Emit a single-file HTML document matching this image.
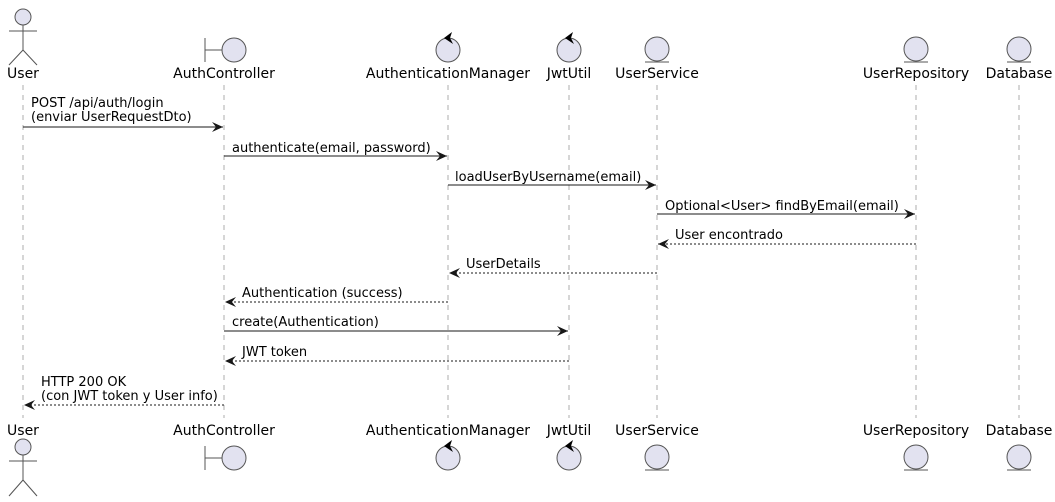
<!DOCTYPE html>
<html><head><meta charset="utf-8"><style>
html,body{margin:0;padding:0;background:#fff;width:1055px;height:502px;overflow:hidden}
svg{display:block}
text{font-family:"DejaVu Sans","Liberation Sans",sans-serif;fill:#000}
.lbl{font-size:14px}
.msg{font-size:13px}
.ll{stroke:#999;stroke-width:0.8;stroke-dasharray:5,5}
.ic{fill:#E2E2F0;stroke:#555;stroke-width:1}
.ln{stroke:#555;stroke-width:1;fill:none}
.a{stroke:#181818;stroke-width:1}
.d{stroke:#181818;stroke-width:1;stroke-dasharray:2,2}
</style></head><body>
<svg width="1055" height="502" viewBox="0 0 1055 502">
<defs>
<marker id="ar" markerWidth="12" markerHeight="10" refX="11" refY="5" orient="auto" markerUnits="userSpaceOnUse">
<path d="M0,0 L11,5 L0,10 L4,5 Z" fill="#181818"/>
</marker>
</defs>
<line class="ll" x1="23" y1="85" x2="23" y2="418"/>
<line class="ll" x1="224" y1="85" x2="224" y2="418"/>
<line class="ll" x1="448" y1="85" x2="448" y2="418"/>
<line class="ll" x1="569" y1="85" x2="569" y2="418"/>
<line class="ll" x1="657" y1="85" x2="657" y2="418"/>
<line class="ll" x1="916" y1="85" x2="916" y2="418"/>
<line class="ll" x1="1019" y1="85" x2="1019" y2="418"/>

<circle class="ic" cx="23" cy="17" r="8"/>
<line class="ln" x1="23" y1="25" x2="23" y2="50"/>
<line class="ln" x1="9" y1="31" x2="37" y2="31"/>
<line class="ln" x1="23" y1="50" x2="9" y2="65"/>
<line class="ln" x1="23" y1="50" x2="37" y2="65"/>
<text class="lbl" x="23" y="78" text-anchor="middle">User</text>

<line class="ln" x1="205" y1="38" x2="205" y2="62"/>
<line class="ln" x1="205" y1="50" x2="222" y2="50"/>
<circle class="ic" cx="234" cy="50" r="12"/>
<text class="lbl" x="224" y="78" text-anchor="middle">AuthController</text>

<circle class="ic" cx="448" cy="50" r="12"/>
<path d="M444,38 L452,32 L450,38 L453,44 Z" fill="#000"/>
<text class="lbl" x="448" y="78" text-anchor="middle">AuthenticationManager</text>

<circle class="ic" cx="569" cy="50" r="12"/>
<path d="M565,38 L573,32 L571,38 L574,44 Z" fill="#000"/>
<text class="lbl" x="569" y="78" text-anchor="middle">JwtUtil</text>

<circle class="ic" cx="657" cy="49" r="12"/><line class="ln" x1="645" y1="62" x2="669" y2="62"/>
<text class="lbl" x="657" y="78" text-anchor="middle">UserService</text>
<circle class="ic" cx="916" cy="49" r="12"/><line class="ln" x1="904" y1="62" x2="928" y2="62"/>
<text class="lbl" x="916" y="78" text-anchor="middle">UserRepository</text>
<circle class="ic" cx="1019" cy="49" r="12"/><line class="ln" x1="1007" y1="62" x2="1031" y2="62"/>
<text class="lbl" x="1019" y="78" text-anchor="middle">Database</text>

<text class="lbl" x="23" y="435" text-anchor="middle">User</text>
<circle class="ic" cx="23" cy="447" r="8"/>
<line class="ln" x1="23" y1="455" x2="23" y2="480"/>
<line class="ln" x1="9" y1="461" x2="37" y2="461"/>
<line class="ln" x1="23" y1="480" x2="9" y2="496"/>
<line class="ln" x1="23" y1="480" x2="37" y2="496"/>

<text class="lbl" x="224" y="435" text-anchor="middle">AuthController</text>
<line class="ln" x1="205" y1="446" x2="205" y2="470"/>
<line class="ln" x1="205" y1="458" x2="222" y2="458"/>
<circle class="ic" cx="234" cy="458" r="12"/>

<text class="lbl" x="448" y="435" text-anchor="middle">AuthenticationManager</text>
<circle class="ic" cx="448" cy="458" r="12"/>
<path d="M444,446 L452,440 L450,446 L453,452 Z" fill="#000"/>
<text class="lbl" x="569" y="435" text-anchor="middle">JwtUtil</text>
<circle class="ic" cx="569" cy="458" r="12"/>
<path d="M565,446 L573,440 L571,446 L574,452 Z" fill="#000"/>

<text class="lbl" x="657" y="435" text-anchor="middle">UserService</text>
<circle class="ic" cx="657" cy="457" r="12"/><line class="ln" x1="645" y1="470" x2="669" y2="470"/>
<text class="lbl" x="916" y="435" text-anchor="middle">UserRepository</text>
<circle class="ic" cx="916" cy="457" r="12"/><line class="ln" x1="904" y1="470" x2="928" y2="470"/>
<text class="lbl" x="1019" y="435" text-anchor="middle">Database</text>
<circle class="ic" cx="1019" cy="457" r="12"/><line class="ln" x1="1007" y1="470" x2="1031" y2="470"/>

<text class="msg" x="31" y="107">POST /api/auth/login</text>
<text class="msg" x="31" y="121">(enviar UserRequestDto)</text>
<line class="a" x1="23" y1="127" x2="223" y2="127" marker-end="url(#ar)"/>

<text class="msg" x="232" y="152">authenticate(email, password)</text>
<line class="a" x1="224" y1="156" x2="447" y2="156" marker-end="url(#ar)"/>

<text class="msg" x="455" y="181">loadUserByUsername(email)</text>
<line class="a" x1="448" y1="185" x2="656" y2="185" marker-end="url(#ar)"/>

<text class="msg" x="665" y="210">Optional&lt;User&gt; findByEmail(email)</text>
<line class="a" x1="657" y1="214" x2="915" y2="214" marker-end="url(#ar)"/>

<text class="msg" x="675" y="239">User encontrado</text>
<line class="d" x1="916" y1="244" x2="658" y2="244" marker-end="url(#ar)"/>

<text class="msg" x="466" y="268">UserDetails</text>
<line class="d" x1="657" y1="273" x2="449" y2="273" marker-end="url(#ar)"/>

<text class="msg" x="242" y="297">Authentication (success)</text>
<line class="d" x1="448" y1="302" x2="225" y2="302" marker-end="url(#ar)"/>

<text class="msg" x="232" y="326">create(Authentication)</text>
<line class="a" x1="224" y1="331" x2="568" y2="331" marker-end="url(#ar)"/>

<text class="msg" x="242" y="356">JWT token</text>
<line class="d" x1="569" y1="361" x2="225" y2="361" marker-end="url(#ar)"/>

<text class="msg" x="41" y="386">HTTP 200 OK</text>
<text class="msg" x="41" y="400">(con JWT token y User info)</text>
<line class="d" x1="224" y1="405" x2="24" y2="405" marker-end="url(#ar)"/>
</svg>
</body></html>
